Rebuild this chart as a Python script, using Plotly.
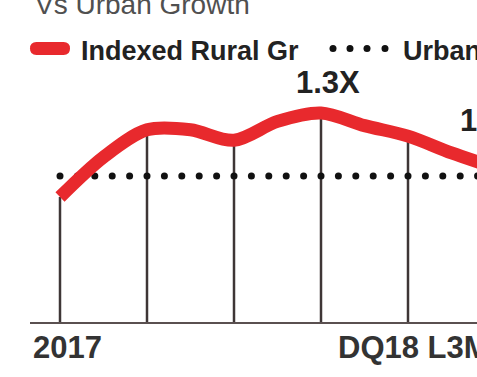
import numpy as np
import plotly.graph_objects as go

# Indexed rural growth vs urban growth (urban = 1.0), half-step periods
periods = [0, 0.5, 1, 1.5, 2, 2.5, 3, 3.5, 4, 4.5, 5]
rural_index = [0.90, 1.09, 1.22, 1.22, 1.17, 1.26, 1.30, 1.24, 1.19, 1.11, 1.04]
urban_index = 1.0
quarter_marks = [0, 1, 2, 3, 4, 5]
tick_labels = ["2017", "DQ18 L3M"]
peak_label = "1.3X"
end_label = "1.1X"

W, H = 477, 377
L, R, T, B = 30, 0, 70, 55
PW, PH = W - L - R, H - T - B
PX_PER_X = 87.0
PX_PER_Y = 210.0
x0 = -(60 - L) / PX_PER_X
x_range = [x0, x0 + PW / PX_PER_X]
y_base = urban_index - (322 - 176) / PX_PER_Y
y_range = [y_base, y_base + PH / PX_PER_Y]


def px(xp):
    return (xp - L) / PW


def py(yp):
    return (H - B - yp) / PH


rural_at = dict(zip(periods, rural_index))

fig = go.Figure()

# vertical drop lines from the baseline up to the rural curve
vx, vy = [], []
for q in quarter_marks:
    vx += [q, q, None]
    vy += [y_base, rural_at[q], None]
fig.add_trace(go.Scatter(x=vx, y=vy, mode="lines",
                         line=dict(color="#3e3636", width=2.5),
                         hoverinfo="skip", showlegend=False))

# urban reference as a dotted row
dot_x = np.arange(quarter_marks[0], quarter_marks[-1] + 0.6, 0.2)
fig.add_trace(go.Scatter(x=dot_x, y=[urban_index] * len(dot_x), mode="markers",
                         marker=dict(color="#111111", size=7),
                         hoverinfo="skip", showlegend=False))

# rural growth curve
fig.add_trace(go.Scatter(x=periods, y=rural_index, mode="lines",
                         line=dict(color="#e8292d", width=13, shape="spline", smoothing=0.9),
                         hoverinfo="skip", showlegend=False))

ann = []
font_b = "Liberation Sans, Arial, sans-serif"
ann.append(dict(x=px(33), y=py(15), xref="paper", yref="paper", text="Vs Urban Growth",
                showarrow=False, xanchor="left", yanchor="bottom", yshift=-7,
                font=dict(family=font_b, size=28, color="#505050")))
ann.append(dict(x=px(79), y=py(51), xref="paper", yref="paper", text="Indexed Rural Gr",
                showarrow=False, xanchor="left", yanchor="middle",
                font=dict(family=font_b, size=27, color="#222222", weight="bold")))
ann.append(dict(x=px(401), y=py(51), xref="paper", yref="paper", text="Urban Growth",
                showarrow=False, xanchor="left", yanchor="middle",
                font=dict(family=font_b, size=27, color="#222222", weight="bold")))
ann.append(dict(x=3.08, y=max(rural_index), xref="x", yref="y", text=peak_label,
                showarrow=False, xanchor="center", yanchor="bottom", yshift=11,
                font=dict(family=font_b, size=31, color="#222222", weight="bold")))
ann.append(dict(x=px(458), y=py(121), xref="paper", yref="paper", text=end_label,
                showarrow=False, xanchor="left", yanchor="middle",
                font=dict(family=font_b, size=31, color="#222222", weight="bold")))
ann.append(dict(x=px(31), y=py(347), xref="paper", yref="paper", text=tick_labels[0],
                showarrow=False, xanchor="left", yanchor="middle",
                font=dict(family=font_b, size=31, color="#333333", weight=600)))
ann.append(dict(x=px(336), y=py(347), xref="paper", yref="paper", text=tick_labels[1],
                showarrow=False, xanchor="left", yanchor="middle",
                font=dict(family=font_b, size=31, color="#333333", weight=600)))
ann.append(dict(x=px(33), y=py(372), xref="paper", yref="paper", text="Source: Nielsen",
                showarrow=False, xanchor="left", yanchor="top",
                font=dict(family=font_b, size=24, color="#444444")))

shapes = []
# legend swatch: rounded red pill
x1, x2, y1, y2 = px(30), px(70), py(42), py(55)
r = (x2 - x1) * 0.16
shapes.append(dict(type="path", xref="paper", yref="paper",
                   path=(f"M {x1 + r} {y1} L {x2 - r} {y1} Q {x2} {y1} {x2} {(y1 + y2) / 2} "
                         f"Q {x2} {y2} {x2 - r} {y2} L {x1 + r} {y2} Q {x1} {y2} {x1} {(y1 + y2) / 2} "
                         f"Q {x1} {y1} {x1 + r} {y1} Z"),
                   fillcolor="#e8292d", line=dict(width=0)))
# legend swatch: four dots
for xd in [333, 350, 367, 385]:
    shapes.append(dict(type="circle", xref="paper", yref="paper",
                       x0=px(xd - 3.5), x1=px(xd + 3.5), y0=py(52), y1=py(45),
                       fillcolor="#111111", line=dict(width=0)))

fig.update_layout(
    width=W, height=H,
    margin=dict(l=L, r=R, t=T, b=B),
    paper_bgcolor="white", plot_bgcolor="white",
    showlegend=False,
    xaxis=dict(range=x_range, showgrid=False, zeroline=False, showticklabels=False,
               showline=True, linecolor="#5a5050", linewidth=2, ticks=""),
    yaxis=dict(range=y_range, showgrid=False, zeroline=False, showticklabels=False,
               showline=False, ticks=""),
    annotations=ann,
    shapes=shapes,
)

fig.write_html("out.html")
